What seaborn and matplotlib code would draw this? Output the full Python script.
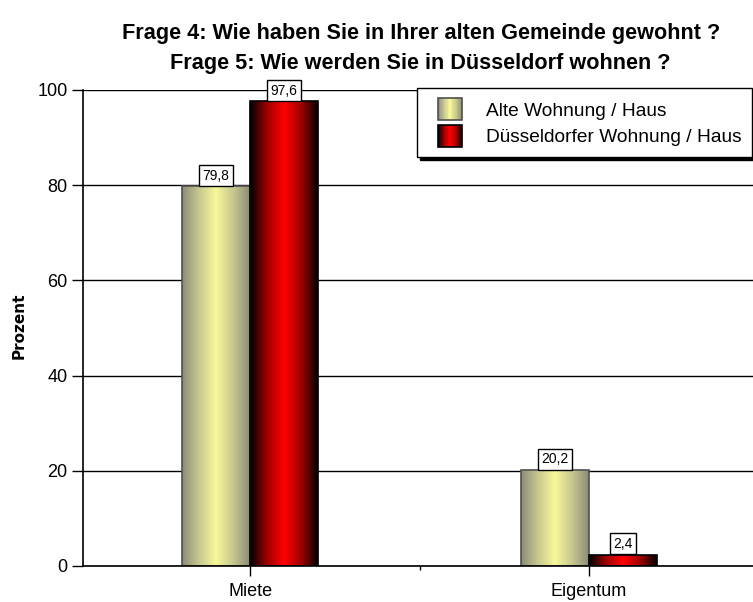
import numpy as np
import pandas as pd
import matplotlib
matplotlib.use("Agg")
import matplotlib.pyplot as plt
import seaborn as sns
from matplotlib.colors import LinearSegmentedColormap
from matplotlib.patches import Rectangle, Patch
from matplotlib.legend_handler import HandlerBase

categories = ["Miete", "Eigentum"]
series = ["Alte Wohnung / Haus", "Düsseldorfer Wohnung / Haus"]
alte = [79.8, 20.2]
duesseldorf = [97.6, 2.4]
yticks = [0, 20, 40, 60, 80, 100]

sns.set_style("white")
plt.rcParams["font.family"] = ["Liberation Sans", "DejaVu Sans"]
plt.rcParams["text.color"] = "black"
plt.rcParams["xtick.color"] = "black"
plt.rcParams["ytick.color"] = "black"
plt.rcParams["axes.labelcolor"] = "black"

df = pd.DataFrame({
    "Kategorie": categories * 2,
    "Serie": [series[0]] * 2 + [series[1]] * 2,
    "Prozent": alte + duesseldorf,
})

cmap_y = LinearSegmentedColormap.from_list(
    "yel", ["#8c8c78", "#c8c890", "#f8f89a", "#c8c890", "#8c8c78"])
cmap_r = LinearSegmentedColormap.from_list(
    "red", ["#000000", "#a00000", "#ff0000", "#a00000", "#000000"])
cmaps = {series[0]: cmap_y, series[1]: cmap_r}
edges = {series[0]: "#505050", series[1]: "#000000"}

fig = plt.figure(figsize=(7.53, 6.02), dpi=100)
ax = fig.add_axes([83 / 753, 1 - 566 / 602, 670 / 753, 476 / 602])

sns.barplot(data=df, x="Kategorie", y="Prozent", hue="Serie", hue_order=series,
            order=categories, palette=["#e0e090", "#cc0000"], width=0.4,
            legend=False, ax=ax, errorbar=None)

grad = np.linspace(0, 1, 256).reshape(1, -1)
bar_patches = list(ax.patches)
n_cat = len(categories)
for i, p in enumerate(bar_patches):
    s = series[i // n_cat]
    x0, y0, w, h = p.get_x(), p.get_y(), p.get_width(), p.get_height()
    im = ax.imshow(grad, cmap=cmaps[s], aspect="auto", extent=[x0, x0 + w, y0, y0 + h],
                   interpolation="bicubic", zorder=2.5)
    im.set_clip_path(p)
    p.set_facecolor("none")
    p.set_edgecolor(edges[s])
    p.set_linewidth(1.2)
    p.set_zorder(3)
    lab = f"{h:.1f}".replace(".", ",")
    ax.annotate(lab, (x0 + w / 2, y0 + h), xytext=(0, 2.6), textcoords="offset points",
                ha="center", va="bottom", fontsize=10, zorder=5,
                bbox=dict(boxstyle="square,pad=0.25", fc="white", ec="black", lw=1))

ax.set_xlim(-0.493, 1.484)
ax.set_ylim(0, 100)
ax.set_yticks(yticks)
ax.set_axisbelow(True)
ax.yaxis.grid(True, color="black", lw=1)
ax.xaxis.grid(False)
for sp in ["top", "right"]:
    ax.spines[sp].set_visible(False)
for sp in ["left", "bottom"]:
    ax.spines[sp].set_color("black")
    ax.spines[sp].set_linewidth(1.2)
    ax.spines[sp].set_zorder(4)
ax.set_xticks([0.5], minor=True)
ax.tick_params(axis="y", which="major", direction="out", length=8, width=1, color="black",
               labelsize=13, pad=3, left=True, labelcolor="black")
ax.tick_params(axis="x", which="major", direction="out", length=7, width=1, color="black",
               labelsize=13, pad=5, bottom=True, labelcolor="black")
ax.tick_params(axis="x", which="minor", direction="out", length=3, width=1, color="black",
               bottom=True)
ax.set_xlabel("")
ax.set_ylabel("Prozent", fontsize=11, fontweight="heavy", family="DejaVu Sans",
              color="black")
ax.yaxis.set_label_coords(-0.0836, 0.504)


class GradHandler(HandlerBase):
    def __init__(self, cmap, ec, box_w):
        super().__init__()
        self.cmap = cmap
        self.ec = ec
        self.box_w = box_w

    def create_artists(self, legend, orig_handle, xdescent, ydescent, width, height,
                       fontsize, trans):
        n = 30
        bw = self.box_w
        x0 = -xdescent + width - bw
        arts = []
        for i in range(n):
            arts.append(Rectangle((x0 + i * bw / n, -ydescent), bw / n * 1.05,
                                  height, facecolor=self.cmap((i + 0.5) / n),
                                  edgecolor="none", transform=trans))
        arts.append(Rectangle((x0, -ydescent), bw, height, facecolor="none",
                              edgecolor=self.ec, lw=1.2, transform=trans))
        return arts


handles = [Patch(label=s) for s in series]
hmap = {h: GradHandler(cmaps[s], edges[s], 17.5) for h, s in zip(handles, series)}
leg = ax.legend(handles=handles, labels=series, handler_map=hmap, loc="upper right",
                bbox_to_anchor=(0.999, 1.005), borderaxespad=0, fontsize=13.8,
                handlelength=1.8, handleheight=1.4, handletextpad=1.25,
                labelspacing=0.22, borderpad=0.55, fancybox=False,
                shadow={"color": "black", "alpha": 1}, framealpha=1)
leg.get_frame().set_edgecolor("black")
leg.get_frame().set_linewidth(1)
leg.set_zorder(10)

fig.text(421 / 753, 1 - 33 / 602, "Frage 4: Wie haben Sie in Ihrer alten Gemeinde gewohnt ?",
         ha="center", va="center", fontsize=15.6, fontweight="bold")
fig.text(420 / 753, 1 - 63 / 602, "Frage 5: Wie werden Sie in Düsseldorf wohnen ?",
         ha="center", va="center", fontsize=15.6, fontweight="bold")

fig.savefig("out.png", dpi=100)
